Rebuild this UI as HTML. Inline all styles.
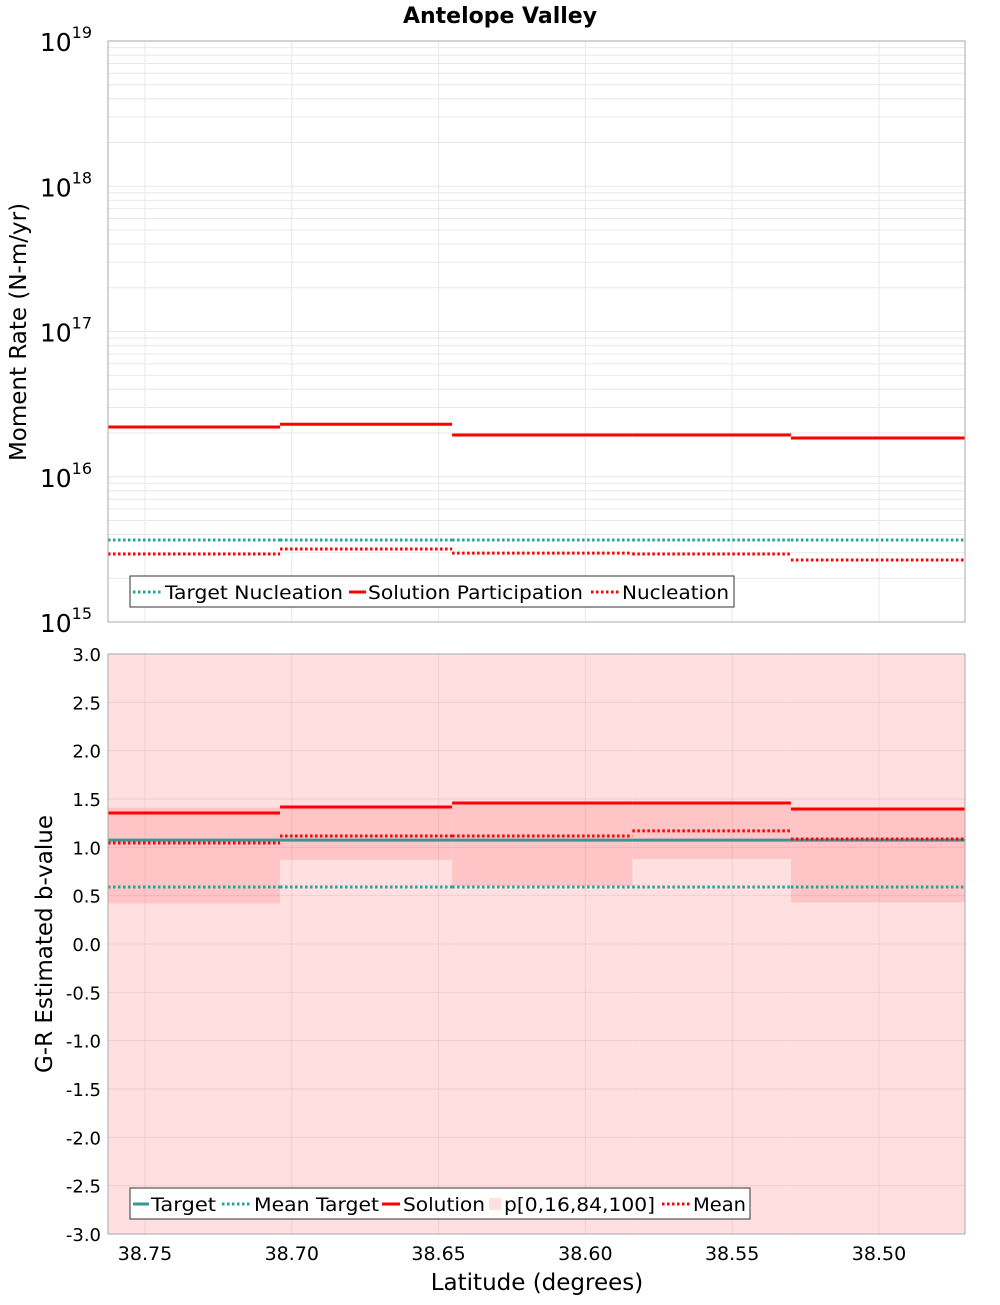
<!DOCTYPE html>
<html><head><meta charset="utf-8"><style>
body{margin:0;background:#fff;font-family:"Liberation Sans","DejaVu Sans",sans-serif}
svg text{font-family:"DejaVu Sans","Liberation Sans",sans-serif}
</style></head><body>
<svg id="chart" width="1000" height="1300" xmlns="http://www.w3.org/2000/svg"></svg>
<script>
const binEdges=[38.7626,38.704,38.6454,38.584,38.530,38.4707];
const solutionPart=[2.2e16,2.3e16,1.94e16,1.94e16,1.85e16];
const targetNucl=[3.67e15,3.67e15,3.67e15,3.67e15,3.67e15];
const nucleation=[2.94e15,3.18e15,2.98e15,2.94e15,2.67e15];
const bSolution=[1.355,1.417,1.459,1.459,1.397];
const bTarget=[1.075,1.075,1.075,1.075,1.075];
const bMeanTarget=[0.59,0.59,0.59,0.59,0.59];
const bMean=[1.045,1.117,1.117,1.17,1.086];
const bP16=[0.42,0.87,0.60,0.88,0.43];
const bP84=[1.41,1.42,1.46,1.46,1.41];
const bP0=[-3,-3,-3,-3,-3];
const bP100=[3,3,3,3,3];
const xTicks=[38.75,38.70,38.65,38.60,38.55,38.50];
const bTicks=[3,2.5,2,1.5,1,0.5,0,-0.5,-1,-1.5,-2,-2.5,-3];
const decades=[15,16,17,18,19];

const svg=document.getElementById('chart');const NS='http://www.w3.org/2000/svg';
const L=108,R=965,T1=41,B1=622,T2=654,B2=1234;
const X0=38.7626,X1=38.4707;
const xs=v=>L+(X0-v)/(X0-X1)*(R-L);
const y1=v=>B1-(Math.log10(v)-15)/4*(B1-T1);
const y2=v=>B2-(v+3)/6*(B2-T2);
function el(t,a,p){const e=document.createElementNS(NS,t);for(const k in a)e.setAttribute(k,a[k]);(p||svg).appendChild(e);return e;}
function txt(s,a,name){const e=el('text',a);e.textContent=s;return e;}
const bg1=el('rect',{x:L,y:T1,width:R-L,height:B1-T1,fill:'#fff'});

for(let i=0;i<5;i++){
 const a=xs(binEdges[i]),b=xs(binEdges[i+1]);
 const r=el('rect',{x:a,y:y2(bP100[i]),width:b-a,height:y2(bP0[i])-y2(bP100[i]),fill:'#ffdfe0'});
 
 const r2=el('rect',{x:a,y:y2(bP84[i]),width:b-a,height:y2(bP16[i])-y2(bP84[i]),fill:'#ffc5c6'});
 
}
for(const d of decades){for(let m=1;m<10;m++){const v=m*Math.pow(10,d);if(d==19&&m>1)break;const yy=y1(v);
 const g=el('line',{x1:L,x2:R,y1:yy,y2:yy,stroke:'#e8e8e8','stroke-width':1});}}
for(const t of xTicks){const xx=xs(t);
 let g=el('line',{x1:xx,x2:xx,y1:T1,y2:B1,stroke:'#e8e8e8'});
 g=el('line',{x1:xx,x2:xx,y1:T2,y2:B2,stroke:'rgba(0,0,0,0.07)'});
 txt(t.toFixed(2),{x:xx,y:1260,'font-size':19,'text-anchor':'middle'},'x-tick-label');}
for(const t of bTicks){const yy=y2(t);
 const g=el('line',{x1:L,x2:R,y1:yy,y2:yy,stroke:'rgba(0,0,0,0.07)'});
 txt(t.toFixed(1),{x:101,y:yy+7,'font-size':18,'text-anchor':'end'},'y-tick-label');}
for(const d of decades){const yy=y1(Math.pow(10,d));
 const t=el('text',{x:92,y:yy+10,'font-size':25,'text-anchor':'end'});t.textContent='10';
 const s=el('tspan',{dy:-13,'font-size':16});s.textContent=String(d);t.appendChild(s);
 }
function steps(vals,ys,style,name){for(let i=0;i<5;i++){const a=xs(binEdges[i]),b=xs(binEdges[i+1]);
 const l=el('line',Object.assign({x1:a,x2:b,y1:ys(vals[i]),y2:ys(vals[i])},style));}}
const dot={'stroke-width':3,'stroke-dasharray':'2.5 2.5'};
steps(targetNucl,y1,Object.assign({stroke:'#1fa3a3'},dot),'target-nucleation-line');
steps(solutionPart,y1,{stroke:'#ff0000','stroke-width':3},'solution-participation-line');
steps(nucleation,y1,Object.assign({stroke:'#ff0000'},dot),'nucleation-line');
steps(bMeanTarget,y2,Object.assign({stroke:'#1fa3a3'},dot),'mean-target-line');
steps(bTarget,y2,{stroke:'#3a9696','stroke-width':3},'target-line');
steps(bSolution,y2,{stroke:'#ff0000','stroke-width':3},'solution-line');
steps(bMean,y2,Object.assign({stroke:'#ff0000'},dot),'mean-line');
for(const [t,b,n] of [[T1,B1,'top-frame'],[T2,B2,'bottom-frame']]){const f=el('rect',{x:L,y:t,width:R-L,height:b-t,fill:'none',stroke:'#aaa'});}
txt('Antelope Valley',{x:500,y:23,'font-size':22,'font-weight':'bold','text-anchor':'middle'},'chart-title');
txt('Moment Rate (N-m/yr)',{x:0,y:0,'font-size':23,'text-anchor':'middle',transform:'translate(26,332) rotate(-90)'},'y-axis-title-top');
txt('G-R Estimated b-value',{x:0,y:0,'font-size':23,'text-anchor':'middle',transform:'translate(52,944) rotate(-90)'},'y-axis-title-bottom');
txt('Latitude (degrees)',{x:537,y:1290,'font-size':23,'text-anchor':'middle'},'x-axis-title');
function legend(x,y,w,items,name){const g=el('g',{});
 el('rect',{x:x,y:y,width:w,height:31,fill:'#fff',stroke:'#333'},g);
 for(const it of items){
  if(it.type=='box'){el('rect',{x:it.lx,y:y+10,width:12,height:12,fill:'#ffdfe0'},g);}
  else{el('line',Object.assign({x1:it.lx,x2:it.lx2,y1:y+16,y2:y+16,stroke:it.c,'stroke-width':3},it.d?{'stroke-dasharray':'2.5 2.5'}:{}),g);}
  const t=el('text',{x:it.tx,y:y+23,'font-size':19,textLength:it.tw,lengthAdjust:'spacingAndGlyphs'},g);t.textContent=it.t;}}
legend(130,576,604,[
 {c:'#1fa3a3',d:1,lx:133,lx2:161,tx:165,tw:178,t:'Target Nucleation'},
 {c:'#f00',lx:349,lx2:366,tx:368,tw:215,t:'Solution Participation'},
 {c:'#f00',d:1,lx:591,lx2:619,tx:622,tw:107,t:'Nucleation'}],'legend-top');
legend(130,1188,620,[
 {c:'#3a9696',lx:133,lx2:149,tx:151,tw:65,t:'Target'},
 {c:'#1fa3a3',d:1,lx:222,lx2:250,tx:254,tw:125,t:'Mean Target'},
 {c:'#f00',lx:382,lx2:400,tx:403,tw:82,t:'Solution'},
 {type:'box',lx:489,tx:504,tw:151,t:'p[0,16,84,100]'},
 {c:'#f00',d:1,lx:662,lx2:690,tx:693,tw:53,t:'Mean'}],'legend-bottom');
</script>
</body></html>
